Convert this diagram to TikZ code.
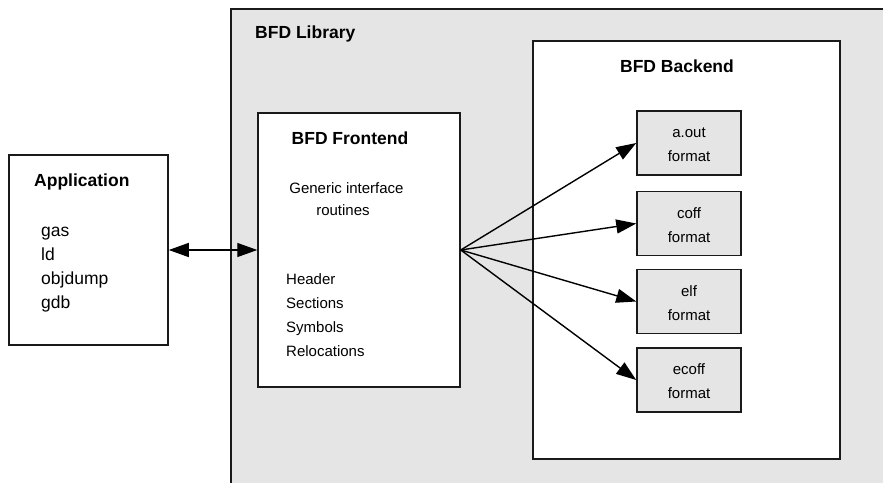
\documentclass[tikz,border=0pt]{standalone}
\usepackage{fontspec}
\setmainfont{Liberation Sans}
\usetikzlibrary{arrows.meta}
\definecolor{panel}{HTML}{E5E5E5}
\definecolor{edge}{HTML}{1A1A1A}
\tikzset{
  box/.style={draw=edge, line width=1.5pt, rectangle, inner sep=0pt},
  title/.style={font=\fontsize{17.5}{21}\selectfont\bfseries, inner sep=0pt},
  big/.style={font=\fontsize{17.5}{24}\selectfont, inner sep=0pt, anchor=base west},
  small/.style={font=\fontsize{15}{24}\selectfont, inner sep=0pt},
  fmt/.style={box, fill=panel, minimum width=104pt, minimum height=64pt,
    align=center, font=\fontsize{15}{24}\selectfont},
  link/.style={line width=1.4pt, -{Triangle[length=20pt,width=14pt]}},
  twoway/.style={line width=1.4pt, {Triangle[length=20pt,width=14pt]}-{Triangle[length=20pt,width=14pt]}},
}
\begin{document}
\begin{tikzpicture}[x=1pt,y=-1pt]
\useasboundingbox (0,0) rectangle (883,482);
\clip (0,0) rectangle (883,482);
\fill[white] (0,0) rectangle (883,482);

% library panel, running off the right and bottom edges
\fill[panel] (231,9) rectangle (960,560);
\draw[edge, line width=1.5pt] (960,9) -- (231,9) -- (231,560);
\coordinate (lib) at (231,9);
\node[title, anchor=base west] (libt) at (255,38) {BFD Library};

% backend
\node[box, fill=white, minimum width=307pt, minimum height=418pt] (be) at (686.5,250) {};
\node[title, anchor=base] (bet) at (677,72) {BFD Backend};
\node[fmt] (aout)  at (689,143)   {\rule{0pt}{14pt}a.out\\format};
\node[fmt] (coff)  at (689,223.5) {\rule{0pt}{14pt}coff\\format};
\node[fmt] (elf)   at (689,301.5) {\rule{0pt}{14pt}elf\\format};
\node[fmt] (ecoff) at (689,380)   {\rule{0pt}{14pt}ecoff\\format};

% frontend
\node[box, fill=white, minimum width=202pt, minimum height=274pt] (fe) at (359,250) {};
\node[title, anchor=base] (fet) at (350,144) {BFD Frontend};
\node[small, anchor=base] (gen1) at (346.5,193) {Generic interface};
\node[small, anchor=base] (gen2) at (343,215) {routines};
\node[small, anchor=base west] (hdr) at (286,284) {Header};
\node[small, anchor=base west] (sec) at (286,308) {Sections};
\node[small, anchor=base west] (sym) at (286,332) {Symbols};
\node[small, anchor=base west] (rel) at (286,356) {Relocations};

% application
\node[box, fill=white, minimum width=159pt, minimum height=190pt] (app) at (88.5,250) {};
\node[title, anchor=base west] (appt) at (34,186) {Application};
\node[big] (gas) at (41,236) {gas};
\node[big] (ld)  at (41,260) {ld};
\node[big] (obj) at (41,284) {objdump};
\node[big] (gdb) at (41,308) {gdb};

% connectors
\draw[twoway] (app.east) -- (fe.west);
\foreach \t in {aout,coff,elf,ecoff}
  \draw[link] (fe.east) -- (\t.west);
\end{tikzpicture}
\end{document}
